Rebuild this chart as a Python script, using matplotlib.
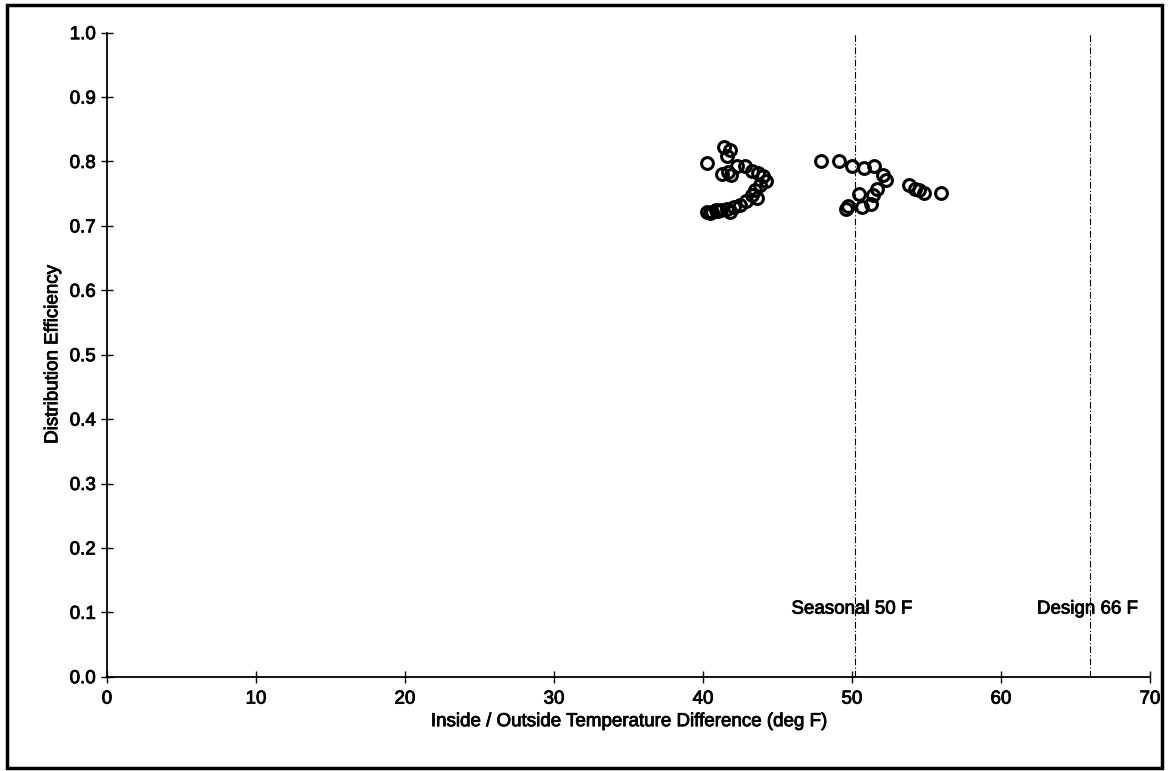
import matplotlib
matplotlib.use("Agg")
import matplotlib.pyplot as plt
from matplotlib.patches import Rectangle
import matplotlib.patheffects as pe

plt.rcParams['font.family'] = ['Liberation Sans', 'DejaVu Sans']

# Temperature difference (deg F) and distribution efficiency
temp_diff = [
    40.3, 41.4, 41.8, 41.6, 41.3, 41.7, 41.9, 42.3, 42.8, 43.3, 43.7, 44.0,
    44.2, 43.8, 43.5, 43.3, 43.6, 42.9, 42.5, 42.1, 41.6, 41.2, 40.9, 40.6,
    40.3, 40.5, 41.8, 41.0,
    47.9, 49.1, 50.0, 50.8, 51.5, 52.1, 52.3, 50.5, 51.7, 51.4, 51.3, 50.7,
    49.6, 49.7, 53.8, 54.2, 54.5, 54.8, 56.0,
]
efficiency = [
    0.797, 0.822, 0.818, 0.808, 0.780, 0.783, 0.779, 0.793, 0.793, 0.786, 0.782, 0.777,
    0.770, 0.763, 0.755, 0.748, 0.743, 0.738, 0.733, 0.730, 0.727, 0.725, 0.724, 0.722,
    0.721, 0.720, 0.722, 0.723,
    0.801, 0.800, 0.793, 0.790, 0.793, 0.779, 0.771, 0.749, 0.757, 0.748, 0.734, 0.729,
    0.727, 0.731, 0.763, 0.758, 0.755, 0.751, 0.751,
]

ref_lines_x = [50.2, 66.0]
ref_labels = ["Seasonal 50 F", "Design 66 F"]

x_ticks = [0, 10, 20, 30, 40, 50, 60, 70]
y_ticks = [0.0, 0.1, 0.2, 0.3, 0.4, 0.5, 0.6, 0.7, 0.8, 0.9, 1.0]

FS = 13.5
heavy = [pe.withStroke(linewidth=0.6, foreground='black')]

fig = plt.figure(figsize=(11.68, 7.71), dpi=100)
ax = fig.add_axes([0.0916, 0.1223, 0.893, 0.8353])

ax.plot(temp_diff, efficiency, linestyle='none', marker='o', markersize=8.5,
        markerfacecolor='none', markeredgecolor='black', markeredgewidth=2.2)

for xv, lab in zip(ref_lines_x, ref_labels):
    ax.axvline(xv, color='black', linewidth=0.8, linestyle=(0, (6, 2, 1, 2)))
    ax.text(xv - 0.2, 0.105, lab, ha='center', va='center', fontsize=FS,
            path_effects=heavy)

ax.set_xlim(0, 70)
ax.set_ylim(0, 1.0)
ax.set_xticks(x_ticks)
ax.set_yticks(y_ticks)
ax.set_xticklabels([str(t) for t in x_ticks])
ax.set_yticklabels([f"{t:.1f}" for t in y_ticks])
ax.tick_params(direction='inout', length=8, width=1, labelsize=FS)
ax.tick_params(axis='x', pad=6)
ax.tick_params(axis='y', pad=4)
for lbl in ax.get_xticklabels() + ax.get_yticklabels():
    lbl.set_path_effects(heavy)

for s in ['top', 'right']:
    ax.spines[s].set_visible(False)
for s in ['left', 'bottom']:
    ax.spines[s].set_linewidth(1.3)

ax.set_xlabel("Inside / Outside Temperature Difference (deg F)", fontsize=FS, labelpad=4,
              path_effects=heavy)
ax.set_ylabel("Distribution Efficiency", fontsize=FS, labelpad=6, path_effects=heavy)

fig.patches.append(Rectangle((0.006, 0.004), 0.989, 0.99, transform=fig.transFigure,
                             fill=False, edgecolor='black', linewidth=2.5))

fig.savefig("out.png", dpi=100)
